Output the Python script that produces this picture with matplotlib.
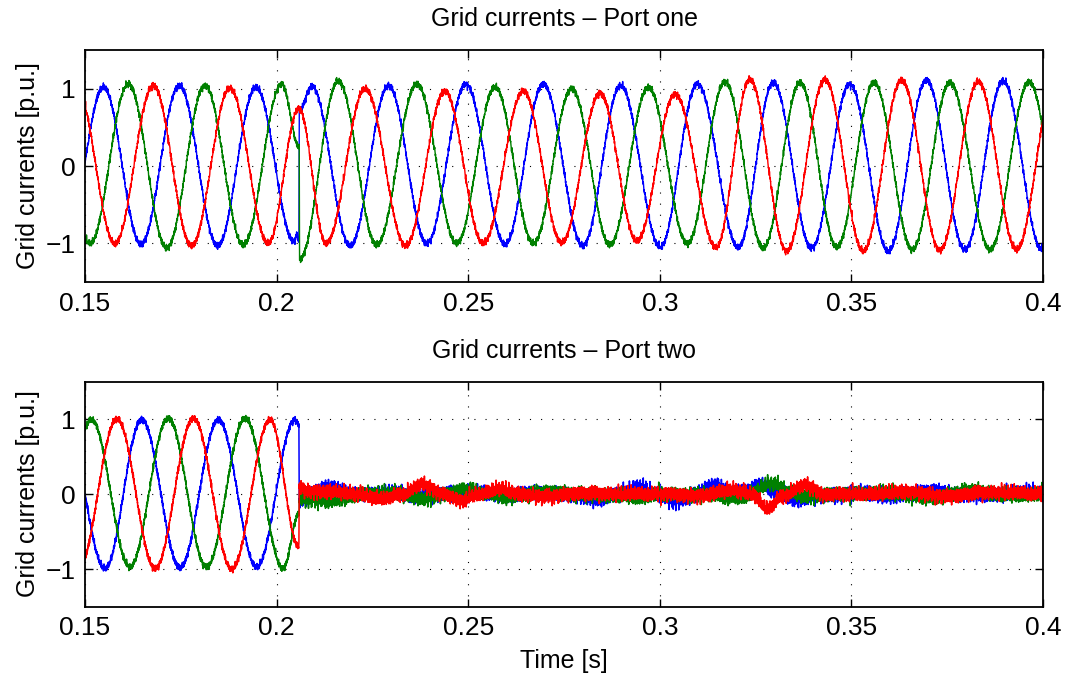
import numpy as np
import matplotlib
matplotlib.use('Agg')
import matplotlib.pyplot as plt

plt.rcParams['font.family'] = ['Liberation Sans', 'DejaVu Sans']

# TIME AXIS AND TICKS
t_ini = 0.15
t_fim = 0.4
t_trip = 0.2059  # instant where port two is switched off
xticks = [0.15, 0.2, 0.25, 0.3, 0.35, 0.4]
xtick_labels = ['0.15', '0.2', '0.25', '0.3', '0.35', '0.4']
yticks = [-1, 0, 1]

# PORT ONE - knots (time, value): peaks, troughs and the fault at ~0.206 s
blue1_t = [0.1450, 0.1548, 0.1646, 0.1746, 0.1846, 0.1946, 0.2046, 0.2052, 0.2058, 0.2059,
           0.2092, 0.2192, 0.2292, 0.2392, 0.2494, 0.2596, 0.2696, 0.2799, 0.2898, 0.3001,
           0.3098, 0.3205, 0.3296, 0.3396, 0.3496, 0.3596, 0.3696, 0.3796, 0.3896, 0.3997, 0.4096]
blue1_v = [-1.00, 1.02, -1.01, 1.04, -1.03, 1.02, -0.98, -0.88, -0.97, 0.72,
           1.03, -1.03, 1.04, -1.00, 1.06, -1.01, 1.06, -1.03, 1.04, -1.05,
           1.06, -1.05, 1.08, -1.06, 1.06, -1.10, 1.11, -1.08, 1.10, -1.08, 1.08]

green1_t = [0.1413, 0.1513, 0.1613, 0.1713, 0.1813, 0.1913, 0.2013, 0.2059, 0.20595,
            0.2161, 0.2261, 0.2366, 0.2470, 0.2570, 0.2670, 0.2770, 0.2870, 0.2970, 0.3072,
            0.3170, 0.3270, 0.3366, 0.3462, 0.3559, 0.3659, 0.3757, 0.3862, 0.3964, 0.4062]
green1_v = [1.00, -1.00, 1.06, -1.06, 1.04, -1.02, 1.06, 0.25, -1.21,
            1.10, -1.02, 1.06, -1.00, 1.02, -1.00, 1.00, -1.02, 1.02, -1.00,
            1.09, -1.06, 1.08, -1.05, 1.08, -1.08, 1.08, -1.08, 1.09, -1.05]

red1_t = [0.1478, 0.1578, 0.1678, 0.1778, 0.1878, 0.1978, 0.2058, 0.2129,
          0.2231, 0.2337, 0.2439, 0.2539, 0.2644, 0.2744, 0.2844, 0.2940, 0.3040, 0.3147,
          0.3235, 0.3331, 0.3431, 0.3531, 0.3631, 0.3731, 0.3831, 0.3931, 0.4031]
red1_v = [1.02, -1.00, 1.04, -1.03, 1.01, -1.00, 0.74, -1.00,
          1.00, -1.03, 0.97, -1.00, 0.97, -0.99, 0.94, -0.97, 0.93, -1.05,
          1.12, -1.10, 1.12, -1.10, 1.11, -1.09, 1.09, -1.08, 1.08]

# PORT TWO - knots (sinusoids until the trip, then residual around zero)
blue2_t = [0.1448, 0.1552, 0.1648, 0.1748, 0.1848, 0.1948, 0.2048, 0.2058, 0.2059,
           0.2075, 0.2100, 0.2135, 0.2165, 0.2200, 0.2250, 0.2300, 0.2370, 0.2420, 0.2480,
           0.2530, 0.2600, 0.2700, 0.2780, 0.2844, 0.2890, 0.2943, 0.2990, 0.3044, 0.3090,
           0.3144, 0.3190, 0.3225, 0.3262, 0.3300, 0.3360, 0.3410, 0.3500, 0.3600, 0.3650,
           0.3713, 0.3780, 0.3850, 0.3950, 0.4050]
blue2_v = [1.00, -0.99, 0.99, -0.98, 0.99, -0.97, 0.99, 0.92, -0.10,
           -0.03, 0.02, 0.10, 0.06, -0.01, 0.00, 0.02, -0.03, 0.00, 0.04,
           0.00, -0.01, 0.02, -0.02, -0.08, 0.00, 0.10, 0.00, -0.10, 0.00,
           0.12, 0.02, 0.04, 0.13, 0.03, -0.08, -0.02, 0.01, -0.03, 0.00,
           0.05, 0.00, -0.02, 0.02, 0.00]

green2_t = [0.1417, 0.1517, 0.1617, 0.1717, 0.1817, 0.1918, 0.2017, 0.2059, 0.20595,
            0.2100, 0.2140, 0.2180, 0.2230, 0.2300, 0.2386, 0.2440, 0.2496, 0.2550, 0.2600,
            0.2650, 0.2700, 0.2800, 0.2900, 0.2950, 0.3000, 0.3100, 0.3209, 0.3296, 0.3340,
            0.3380, 0.3450, 0.3600, 0.3700, 0.3817, 0.3900, 0.4050]
green2_v = [-1.00, 0.99, -0.97, 1.01, -0.97, 1.01, -0.99, -0.25, -0.05,
            -0.08, -0.10, -0.05, 0.00, 0.01, -0.06, 0.00, 0.07, 0.00, -0.05,
            0.00, 0.03, 0.00, -0.03, -0.05, 0.00, 0.00, -0.05, 0.14, 0.02,
            -0.03, 0.00, 0.01, -0.05, 0.05, -0.02, 0.00]

red2_t = [0.1483, 0.1583, 0.1683, 0.1783, 0.1883, 0.1983, 0.2058, 0.2059,
          0.2080, 0.2150, 0.2200, 0.2278, 0.2330, 0.2379, 0.2430, 0.2479, 0.2530, 0.2583,
          0.2630, 0.2700, 0.2800, 0.2900, 0.3000, 0.3100, 0.3191, 0.3240, 0.3282, 0.3320,
          0.3379, 0.3430, 0.3550, 0.3650, 0.3750, 0.3850, 0.4050]
red2_v = [-1.00, 1.00, -0.99, 1.01, -1.00, 0.99, -0.70, 0.10,
          0.04, 0.03, 0.00, -0.06, 0.00, 0.13, 0.02, -0.09, 0.00, 0.07,
          0.00, -0.03, 0.01, 0.00, 0.00, -0.02, 0.05, 0.00, -0.19, -0.03,
          0.12, 0.00, 0.00, 0.03, -0.03, 0.02, 0.00]

# SWITCHING RIPPLE (frequencies in Hz and amplitudes in p.u., estimated from the trace width)
ripple_freq = [1130, 1870, 2730, 3910, 5170, 6330, 7490, 8870, 10310, 11930]
ripple_amp_on = 0.009    # converter running
ripple_amp_off = 0.019   # port two after the trip


def knots_curve(t, kt, kv):
    # half cosine between consecutive knots (peak to trough looks like a sine)
    kt = np.asarray(kt)
    kv = np.asarray(kv)
    idx = np.clip(np.searchsorted(kt, t, side='right') - 1, 0, len(kt) - 2)
    t0, t1 = kt[idx], kt[idx + 1]
    v0, v1 = kv[idx], kv[idx + 1]
    s = np.clip((t - t0) / (t1 - t0), 0, 1)
    return v0 + (v1 - v0) * (1 - np.cos(np.pi * s)) / 2


def ripple(t, amp, shift):
    r = np.zeros_like(t)
    for k, f in enumerate(ripple_freq):
        r += amp * np.sin(2 * np.pi * f * t + shift * (k + 1) * 1.7)
    return r


def estilo_eixo(ax, titulo):
    ax.set_xlim(t_ini, t_fim)
    ax.set_ylim(-1.5, 1.5)
    ax.set_xticks(xticks)
    ax.set_xticklabels(xtick_labels)
    ax.set_yticks(yticks)
    ax.grid(True, color='black', linestyle=(0, (1, 9)), linewidth=0.8)
    ax.tick_params(direction='in', length=6, width=1.0, top=True, right=True,
                   labelsize=19, pad=7)
    for sp in ax.spines.values():
        sp.set_linewidth(1.3)
    ax.set_title(titulo, fontsize=18, pad=17)
    ax.set_ylabel('Grid currents [p.u.]', fontsize=18, labelpad=4)


t = np.linspace(t_ini, t_fim, 15001)
cores = ['#0000ff', '#008000', '#ff0000']

fig = plt.figure(figsize=(10.67, 6.74), dpi=100)
ax1 = fig.add_axes([0.0797, 0.5816, 0.8978, 0.3442])
ax2 = fig.add_axes([0.0797, 0.1001, 0.8978, 0.3338])

port1 = [(blue1_t, blue1_v), (green1_t, green1_v), (red1_t, red1_v)]
port2 = [(blue2_t, blue2_v), (green2_t, green2_v), (red2_t, red2_v)]

for i, (kt, kv) in enumerate(port1):
    y = knots_curve(t, kt, kv) + ripple(t, ripple_amp_on, i + 1)
    ax1.plot(t, y, color=cores[i], linewidth=1.0)

amp2 = np.where(t < t_trip, ripple_amp_on, ripple_amp_off)
for i, (kt, kv) in enumerate(port2):
    y = knots_curve(t, kt, kv) + amp2 / ripple_amp_on * ripple(t, ripple_amp_on, i + 4)
    ax2.plot(t, y, color=cores[i], linewidth=1.1)

estilo_eixo(ax1, 'Grid currents – Port one')
estilo_eixo(ax2, 'Grid currents – Port two')
ax2.set_xlabel('Time [s]', fontsize=18, labelpad=6)

fig.savefig('out.png', dpi=100)
